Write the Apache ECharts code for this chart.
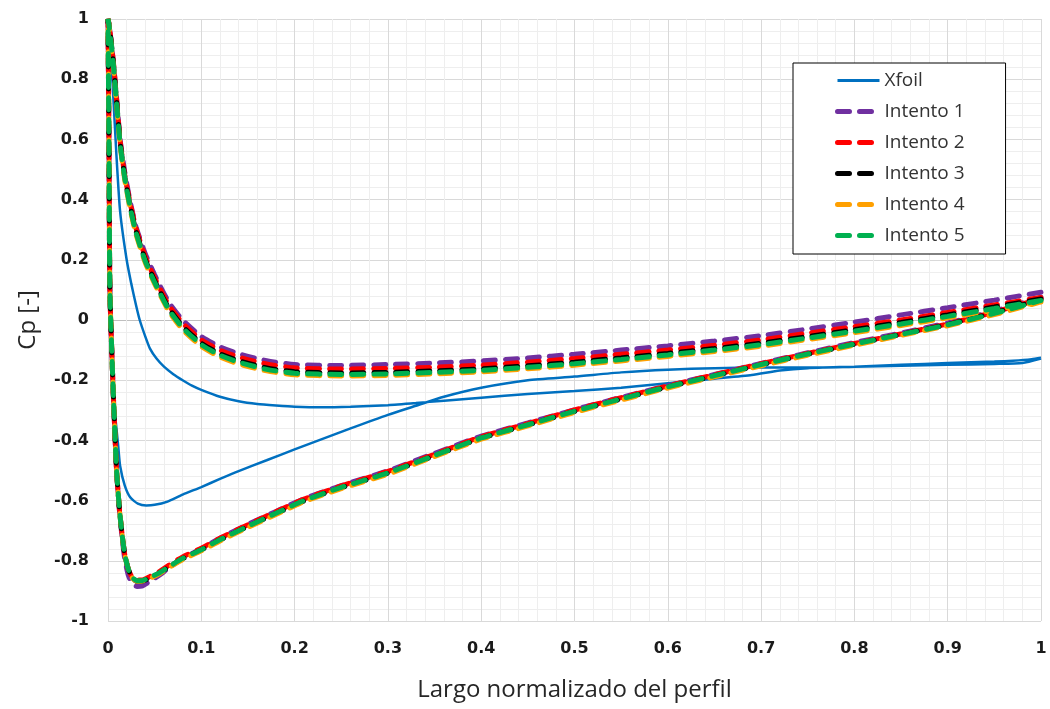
<!DOCTYPE html>
<html>
<head>
<meta charset="utf-8">
<title>Cp vs largo normalizado</title>
<script src="https://cdn.jsdelivr.net/npm/echarts@6/dist/echarts.min.js"></script>
<style>
  html, body { margin: 0; padding: 0; background: #ffffff; }
  #chart { width: 1050px; height: 709px; }
</style>
</head>
<body>
<div id="chart"></div>
<script>
// Xfoil pressure coefficient: trailing edge -> leading edge -> trailing edge
const xfoilX = [1.0, 0.99, 0.97, 0.95, 0.9, 0.85, 0.8, 0.75, 0.72, 0.69, 0.65, 0.6, 0.55, 0.5, 0.45, 0.4, 0.36, 0.33, 0.3, 0.26, 0.23, 0.2, 0.18, 0.16, 0.14, 0.12, 0.1, 0.09, 0.08, 0.07, 0.06, 0.052, 0.045, 0.04, 0.034, 0.03, 0.025, 0.02, 0.013, 0.009, 0.005, 0.002, 0,
  0.001, 0.002, 0.003, 0.004, 0.006, 0.0075, 0.011, 0.013, 0.018, 0.024, 0.032, 0.041, 0.05, 0.063, 0.08, 0.1, 0.12, 0.14, 0.17, 0.2, 0.23, 0.26, 0.3, 0.33, 0.36, 0.4, 0.45, 0.5, 0.55, 0.6, 0.65, 0.7, 0.75, 0.8, 0.85, 0.9, 0.95, 0.98, 1.0];
const xfoilCp = [-0.125, -0.13, -0.135, -0.138, -0.143, -0.149, -0.155, -0.16, -0.168, -0.183, -0.195, -0.21, -0.225, -0.236, -0.246, -0.258, -0.268, -0.276, -0.283, -0.288, -0.29, -0.288, -0.284, -0.279, -0.27, -0.255, -0.232, -0.218, -0.2, -0.18, -0.155, -0.128, -0.095, -0.055, 0.0, 0.05, 0.12, 0.2, 0.36, 0.55, 0.78, 0.92, 1.0,
  0.7, 0.4, 0.15, -0.05, -0.22, -0.31, -0.42, -0.485, -0.55, -0.59, -0.61, -0.616, -0.614, -0.604, -0.58, -0.555, -0.528, -0.502, -0.466, -0.43, -0.395, -0.36, -0.315, -0.285, -0.255, -0.225, -0.2, -0.188, -0.174, -0.165, -0.16, -0.158, -0.158, -0.155, -0.152, -0.149, -0.146, -0.143, -0.128];

// Panel stations for the Intento runs: upper branch (TE -> LE), lower branch (LE -> TE)
const intentoUpperX = [1.0, 0.95, 0.9, 0.85, 0.8, 0.75, 0.7, 0.65, 0.6, 0.55, 0.5, 0.45, 0.4, 0.35, 0.3, 0.25, 0.2, 0.17, 0.14, 0.12, 0.1, 0.08, 0.065, 0.05, 0.04, 0.03, 0.024, 0.018, 0.013, 0.009, 0.006, 0.003, 0.001, 0];
const intentoLowerX = [0.001, 0.002, 0.004, 0.006, 0.009, 0.012, 0.015, 0.018, 0.022, 0.026, 0.031, 0.036, 0.045, 0.055, 0.065, 0.08, 0.1, 0.12, 0.15, 0.18, 0.21, 0.25, 0.3, 0.35, 0.4, 0.45, 0.5, 0.55, 0.6, 0.65, 0.7, 0.75, 0.8, 0.85, 0.9, 0.95, 1.0];

const intento1Upper = [0.092, 0.066, 0.041, 0.017, -0.007, -0.03, -0.052, -0.07, -0.086, -0.1, -0.114, -0.126, -0.136, -0.143, -0.148, -0.151, -0.148, -0.135, -0.112, -0.089, -0.055, 0.0, 0.06, 0.15, 0.22, 0.31, 0.39, 0.49, 0.6, 0.745, 0.85, 0.935, 0.985, 1.0];
const intento1Lower = [0.6, 0.1, -0.1, -0.27, -0.49, -0.625, -0.72, -0.795, -0.85, -0.875, -0.885, -0.884, -0.868, -0.848, -0.824, -0.792, -0.76, -0.725, -0.679, -0.636, -0.594, -0.55, -0.501, -0.443, -0.386, -0.342, -0.298, -0.257, -0.218, -0.181, -0.144, -0.109, -0.075, -0.043, -0.01, 0.03, 0.075];

const intento2Upper = [0.075, 0.05, 0.025, 0.0, -0.022, -0.044, -0.066, -0.084, -0.1, -0.114, -0.128, -0.14, -0.15, -0.157, -0.161, -0.163, -0.159, -0.146, -0.123, -0.1, -0.066, -0.01, 0.05, 0.14, 0.21, 0.305, 0.385, 0.48, 0.595, 0.74, 0.85, 0.935, 0.985, 1.0];
const intento2Lower = [0.6, 0.1, -0.1, -0.27, -0.49, -0.62, -0.71, -0.78, -0.83, -0.855, -0.864, -0.864, -0.852, -0.836, -0.815, -0.787, -0.758, -0.725, -0.68, -0.637, -0.595, -0.551, -0.503, -0.446, -0.388, -0.344, -0.299, -0.258, -0.219, -0.182, -0.145, -0.111, -0.078, -0.046, -0.013, 0.026, 0.072];

const intento3Upper = [0.07, 0.043, 0.017, -0.008, -0.032, -0.055, -0.077, -0.095, -0.111, -0.126, -0.14, -0.152, -0.162, -0.169, -0.174, -0.176, -0.172, -0.159, -0.135, -0.112, -0.077, -0.021, 0.04, 0.13, 0.2, 0.295, 0.375, 0.475, 0.59, 0.735, 0.845, 0.935, 0.985, 1.0];
const intento3Lower = [0.6, 0.1, -0.1, -0.27, -0.49, -0.62, -0.71, -0.78, -0.83, -0.857, -0.868, -0.868, -0.857, -0.841, -0.821, -0.793, -0.764, -0.731, -0.686, -0.643, -0.601, -0.557, -0.509, -0.451, -0.393, -0.349, -0.304, -0.263, -0.223, -0.186, -0.149, -0.114, -0.081, -0.048, -0.015, 0.024, 0.068];

const intento4Upper = [0.06, 0.033, 0.007, -0.018, -0.042, -0.065, -0.087, -0.105, -0.121, -0.136, -0.15, -0.162, -0.172, -0.179, -0.184, -0.186, -0.182, -0.169, -0.146, -0.123, -0.088, -0.032, 0.03, 0.12, 0.19, 0.285, 0.365, 0.465, 0.58, 0.725, 0.835, 0.925, 0.98, 1.0];
const intento4Lower = [0.6, 0.1, -0.1, -0.27, -0.49, -0.62, -0.71, -0.78, -0.83, -0.857, -0.868, -0.868, -0.858, -0.843, -0.823, -0.796, -0.767, -0.734, -0.689, -0.646, -0.604, -0.56, -0.512, -0.454, -0.396, -0.352, -0.307, -0.266, -0.226, -0.189, -0.152, -0.117, -0.084, -0.051, -0.019, 0.018, 0.06];

const intento5Upper = [0.065, 0.038, 0.012, -0.013, -0.037, -0.06, -0.082, -0.1, -0.116, -0.131, -0.145, -0.157, -0.167, -0.174, -0.179, -0.181, -0.177, -0.164, -0.14, -0.117, -0.082, -0.026, 0.035, 0.125, 0.195, 0.29, 0.37, 0.47, 0.585, 0.73, 0.84, 0.93, 0.98, 1.0];
const intento5Lower = [0.6, 0.1, -0.1, -0.27, -0.49, -0.62, -0.71, -0.78, -0.83, -0.855, -0.866, -0.866, -0.855, -0.84, -0.82, -0.792, -0.763, -0.73, -0.685, -0.642, -0.6, -0.556, -0.508, -0.45, -0.392, -0.348, -0.303, -0.262, -0.222, -0.185, -0.148, -0.113, -0.08, -0.048, -0.016, 0.022, 0.065];

const xTicks = { min: 0, max: 1, step: 0.1 };
const yTicks = { min: -1, max: 1, step: 0.2 };

function pairs(xs, ys) {
  return xs.map((x, i) => [x, ys[i]]);
}
function loop(upper, lower) {
  return pairs(intentoUpperX, upper).concat(pairs(intentoLowerX, lower));
}

const runs = [
  { name: 'Intento 1', color: '#7030A0', data: loop(intento1Upper, intento1Lower) },
  { name: 'Intento 2', color: '#FF0000', data: loop(intento2Upper, intento2Lower) },
  { name: 'Intento 3', color: '#000000', data: loop(intento3Upper, intento3Lower) },
  { name: 'Intento 4', color: '#FFA000', data: loop(intento4Upper, intento4Lower) },
  { name: 'Intento 5', color: '#00B050', data: loop(intento5Upper, intento5Lower) }
];

const dash = [12, 10];

// y = 0 gridline is the horizontal axis, drawn a little darker
const ySplitColors = [];
for (let v = 0; v <= 10; v++) ySplitColors.push(v === 5 ? '#bfbfbf' : '#d9d9d9');

const series = [{
  name: 'Xfoil',
  type: 'line',
  data: pairs(xfoilX, xfoilCp),
  symbol: 'none',
  smooth: 0.2,
  lineStyle: { color: '#0070C0', width: 2.5 },
  itemStyle: { color: '#0070C0' },
  z: 2
}].concat(runs.map((r, i) => ({
  name: r.name,
  type: 'line',
  data: r.data,
  symbol: 'none',
  smooth: 0.2,
  lineStyle: { color: r.color, width: 5, type: dash, cap: 'round' },
  itemStyle: { color: r.color },
  z: 3 + i
})));

// legend entries: plain line samples, no marker
const hiddenMarker = { color: 'rgba(0,0,0,0)', borderColor: 'rgba(0,0,0,0)', borderWidth: 0 };
const legendData = [{ name: 'Xfoil', itemStyle: hiddenMarker, lineStyle: { color: '#0070C0', width: 3, type: 'solid' } }]
  .concat(runs.map(r => ({
    name: r.name,
    itemStyle: hiddenMarker,
    lineStyle: { color: r.color, width: 5, type: dash, cap: 'round' }
  })));

const chart = echarts.init(document.getElementById('chart'), null, { renderer: 'canvas' });
chart.setOption({
  animation: false,
  backgroundColor: '#ffffff',
  grid: { left: 108, right: 9, top: 19, bottom: 88, containLabel: false },
  legend: {
    orient: 'vertical',
    left: 793,
    top: 63,
    padding: [8, 41, 9, 42],
    itemWidth: 42,
    itemHeight: 14,
    itemGap: 12,
    backgroundColor: '#ffffff',
    borderColor: '#000000',
    borderWidth: 1,
    borderRadius: 0,
    itemStyle: hiddenMarker,
    textStyle: { fontFamily: 'Open Sans', fontSize: 19, color: '#333333' },
    data: legendData
  },
  xAxis: {
    type: 'value',
    min: xTicks.min,
    max: xTicks.max,
    interval: xTicks.step,
    name: 'Largo normalizado del perfil',
    nameLocation: 'middle',
    nameGap: 57,
    nameTextStyle: { fontFamily: 'Open Sans', fontSize: 24, color: '#262626' },
    axisLine: { show: false },
    axisTick: { show: false },
    axisLabel: { fontFamily: 'DejaVu Sans', fontWeight: 'bold', fontSize: 16, color: '#1a1a1a', margin: 20 },
    splitLine: { show: true, lineStyle: { color: '#d9d9d9', width: 1 } },
    minorTick: { show: false, splitNumber: 5 },
    minorSplitLine: { show: true, lineStyle: { color: '#eeeeee', width: 1 } }
  },
  yAxis: {
    type: 'value',
    min: yTicks.min,
    max: yTicks.max,
    interval: yTicks.step,
    name: 'Cp [-]',
    nameLocation: 'middle',
    nameGap: 68,
    nameTextStyle: { fontFamily: 'Open Sans', fontSize: 24, color: '#262626' },
    axisLine: { show: false },
    axisTick: { show: false },
    axisLabel: { fontFamily: 'DejaVu Sans', fontWeight: 'bold', fontSize: 16, color: '#1a1a1a', margin: 19 },
    splitLine: { show: true, lineStyle: { color: ySplitColors, width: 1 } },
    minorTick: { show: false, splitNumber: 5 },
    minorSplitLine: { show: true, lineStyle: { color: '#eeeeee', width: 1 } }
  },
  series: series
});
</script>
</body>
</html>
